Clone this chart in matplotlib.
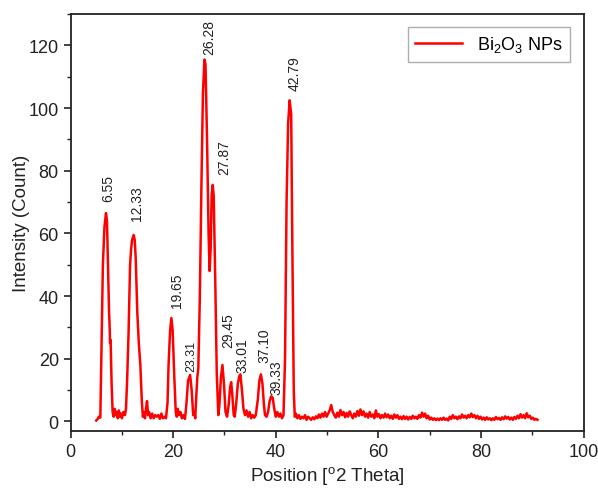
import matplotlib

matplotlib.use("Agg")

import matplotlib.pyplot as plt
from matplotlib.ticker import MultipleLocator

plt.rcParams["font.family"] = ["Liberation Sans", "DejaVu Sans"]
plt.rcParams["mathtext.default"] = "regular"

RED = "#FF0000"

# XRD trace: (2 theta, counts)
peak_region = [
    (5.0, 0.3), (5.3, 0.8), (5.5, 1.5), (5.8, 1.2), (6.0, 20), (6.3, 50), (6.6, 62),
    (6.9, 66.5), (7.1, 64), (7.3, 50), (7.5, 35), (7.6, 31), (7.7, 25), (7.8, 26),
    (8.0, 12), (8.2, 3), (8.4, 1.5), (8.6, 4), (8.8, 2), (9.0, 3), (9.2, 1), (9.4, 3.5),
    (9.6, 1.5), (9.8, 2.5), (10.0, 1), (10.3, 3), (10.6, 2), (10.8, 4), (11.0, 12),
    (11.3, 28), (11.6, 50), (11.8, 55), (12.0, 58), (12.3, 59.5), (12.5, 58), (12.7, 52),
    (13.0, 35), (13.3, 25), (13.6, 18), (13.9, 6), (14.1, 1.5), (14.3, 3), (14.5, 1),
    (14.7, 4), (14.9, 6.5), (15.1, 2), (15.3, 3), (15.6, 1), (15.9, 2.5), (16.2, 1),
    (16.5, 2), (16.8, 1.5), (17.1, 2), (17.4, 0.8), (17.7, 2.5), (18.0, 1), (18.3, 1.5),
    (18.6, 1), (18.9, 6), (19.1, 18), (19.4, 29), (19.65, 33), (19.9, 29), (20.2, 15),
    (20.5, 3), (20.7, 1.5), (20.9, 4), (21.1, 2), (21.4, 3), (21.7, 1), (22.0, 2),
    (22.3, 0.8), (22.6, 6), (22.9, 13), (23.3, 14.8), (23.6, 10), (23.9, 2), (24.1, 3),
    (24.3, 1), (24.5, 8), (24.7, 14), (24.9, 17), (25.2, 40), (25.5, 75), (25.8, 105),
    (26.1, 115.5), (26.3, 114), (26.6, 90), (26.9, 60), (27.1, 48), (27.3, 55),
    (27.5, 72), (27.7, 75.5), (27.9, 72), (28.2, 45), (28.5, 15), (28.8, 2), (29.0, 5),
    (29.3, 14), (29.6, 18), (29.9, 12), (30.2, 3), (30.5, 1.5), (30.8, 5), (31.1, 11),
    (31.3, 12.5), (31.5, 9), (31.8, 2), (32.0, 1.5), (32.3, 6), (32.6, 12), (32.9, 14.5),
    (33.1, 15), (33.4, 10), (33.7, 4), (34.0, 2), (34.3, 3.5), (34.6, 1.5), (34.9, 3),
    (35.2, 1), (35.5, 2), (35.8, 1.2), (36.1, 2), (36.5, 7), (36.8, 13), (37.1, 15),
    (37.4, 12), (37.7, 5), (37.9, 2), (38.2, 1.5), (38.5, 3), (38.8, 6.5), (39.1, 8),
    (39.4, 7.5), (39.7, 4), (40.0, 1.5), (40.3, 3), (40.6, 1.5), (40.9, 2.5), (41.2, 1),
    (41.5, 2), (41.8, 20), (42.1, 70), (42.4, 95), (42.7, 102.5), (43.0, 98), (43.2, 60),
    (43.5, 10), (43.7, 1.5), (43.9, 2.5),
]

tail_region = [
    (44.2, 1), (44.5, 2), (44.8, 0.8), (45.1, 1.5), (45.4, 1), (45.7, 2), (46.0, 0.5),
    (46.3, 1.5), (46.6, 1), (46.9, 0.5), (47.2, 1.3), (47.5, 0.7), (47.8, 1.6), (48.1, 1),
    (48.4, 2.2), (48.7, 1.2), (49.0, 2.5), (49.3, 1.5), (49.6, 3), (49.9, 1.5), (50.2, 2.5),
    (50.5, 3.5), (50.8, 5.2), (51.1, 3), (51.4, 2), (51.7, 1.2), (52.0, 2.8), (52.3, 1.5),
    (52.6, 3.6), (52.9, 2), (53.2, 3), (53.5, 1.3), (53.8, 2.7), (54.1, 1.5), (54.4, 3.2),
    (54.7, 2), (55.0, 1), (55.3, 2.5), (55.6, 1.5), (55.9, 3.3), (56.2, 1.8), (56.5, 3.8),
    (56.8, 2), (57.1, 3.2), (57.4, 1.5), (57.7, 2.5), (58.0, 1.2), (58.3, 3), (58.6, 1.5),
    (58.9, 2.2), (59.2, 1), (59.5, 3.5), (59.8, 1.5), (60.1, 2.3), (60.4, 1), (60.7, 2),
    (61.0, 1.2), (61.3, 2.5), (61.6, 1.3), (61.9, 2.2), (62.2, 1), (62.5, 1.8), (62.8, 0.8),
    (63.1, 2.2), (63.4, 1.2), (63.7, 2), (64.0, 0.8), (64.3, 1.5), (64.6, 0.7), (64.9, 1.7),
    (65.2, 0.8), (65.5, 1.5), (65.8, 0.6), (66.1, 1.4), (66.4, 0.8), (66.7, 1.8), (67.0, 1),
    (67.3, 1.5), (67.6, 0.8), (67.9, 2), (68.2, 1.2), (68.5, 2.8), (68.8, 1.5), (69.1, 2.5),
    (69.4, 1), (69.7, 1.8), (70.0, 0.6), (70.3, 1.2), (70.6, 0.5), (70.9, 1), (71.2, 0.4),
    (71.5, 0.9), (71.8, 0.4), (72.1, 1), (72.4, 0.5), (72.7, 1.2), (73.0, 0.5), (73.3, 0.9),
    (73.6, 0.3), (73.9, 1.5), (74.2, 0.8), (74.5, 2), (74.8, 1), (75.1, 1.5), (75.4, 0.7),
    (75.7, 1.6), (76.0, 1), (76.3, 2.2), (76.6, 1.2), (76.9, 1.8), (77.2, 1), (77.5, 2),
    (77.8, 1.3), (78.1, 2.5), (78.4, 1.4), (78.7, 2), (79.0, 1), (79.3, 1.8), (79.6, 0.8),
    (79.9, 1.5), (80.2, 0.6), (80.5, 1.2), (80.8, 0.5), (81.1, 1.3), (81.4, 0.6), (81.7, 1),
    (82.0, 0.4), (82.3, 1), (82.6, 0.5), (82.9, 1.4), (83.2, 0.7), (83.5, 1.1), (83.8, 0.5),
    (84.1, 1.3), (84.4, 0.7), (84.7, 1.6), (85.0, 0.9), (85.3, 1.4), (85.6, 0.6), (85.9, 1.2),
    (86.2, 0.5), (86.5, 1.4), (86.8, 0.8), (87.1, 1.8), (87.4, 1), (87.7, 2.3), (88.0, 1.2),
    (88.3, 2), (88.6, 1), (88.9, 2.6), (89.2, 1.3), (89.5, 1.8), (89.8, 0.8), (90.1, 1.2),
    (90.4, 0.5), (90.7, 0.8), (91.0, 0.5),
]

# peak annotations: text, x, y of the label foot, font size
peak_labels = ["6.55", "12.33", "19.65", "23.31", "26.28", "27.87", "29.45", "33.01", "37.10", "39.33", "42.79"]
label_x = [7.4, 12.9, 20.7, 23.5, 27.1, 30.0, 30.8, 33.4, 37.7, 40.2, 43.6]
label_y = [70.5, 64.2, 36.5, 16.0, 117.4, 79.0, 23.7, 15.8, 19.0, 8.8, 105.7]
label_size = [10, 10, 10, 9, 10, 10, 10, 10, 10, 10, 10]


def main():
    trace = peak_region + tail_region
    two_theta = [p[0] for p in trace]
    counts = [p[1] for p in trace]

    fig = plt.figure(figsize=(5.98, 4.89), dpi=100, facecolor="white")
    ax = fig.add_axes([0.118, 0.117, 0.858, 0.852])

    ax.plot(two_theta, counts, color=RED, linewidth=1.8, label="Bi$_2$O$_3$ NPs")

    for txt, x, y, fs in zip(peak_labels, label_x, label_y, label_size):
        ax.text(x, y, txt, rotation=90, ha="center", va="bottom", fontsize=fs, color="#222222")

    ax.set_xlim(0, 100)
    ax.set_ylim(-3, 130)
    ax.xaxis.set_major_locator(MultipleLocator(20))
    ax.xaxis.set_minor_locator(MultipleLocator(10))
    ax.yaxis.set_major_locator(MultipleLocator(20))
    ax.yaxis.set_minor_locator(MultipleLocator(10))
    ax.tick_params(which="major", direction="out", length=5, width=1.2, labelsize=13, colors="#222222")
    ax.tick_params(which="minor", direction="out", length=3, width=1.0, colors="#222222")
    for spine in ax.spines.values():
        spine.set_linewidth(1.3)
        spine.set_color("#222222")

    ax.set_xlabel("Position [$^{o}$2 Theta]", fontsize=13.5, color="#222222", labelpad=3)
    ax.set_ylabel("Intensity (Count)", fontsize=13.5, color="#222222", labelpad=-1)

    leg = ax.legend(loc="upper right", bbox_to_anchor=(0.973, 0.969), borderaxespad=0,
                    fontsize=13, frameon=True, fancybox=False, handlelength=2.6, borderpad=0.4)
    leg.get_frame().set_edgecolor("#999999")
    leg.get_frame().set_linewidth(1.0)

    fig.savefig("out.png", dpi=100)
    plt.close(fig)


if __name__ == "__main__":
    main()
